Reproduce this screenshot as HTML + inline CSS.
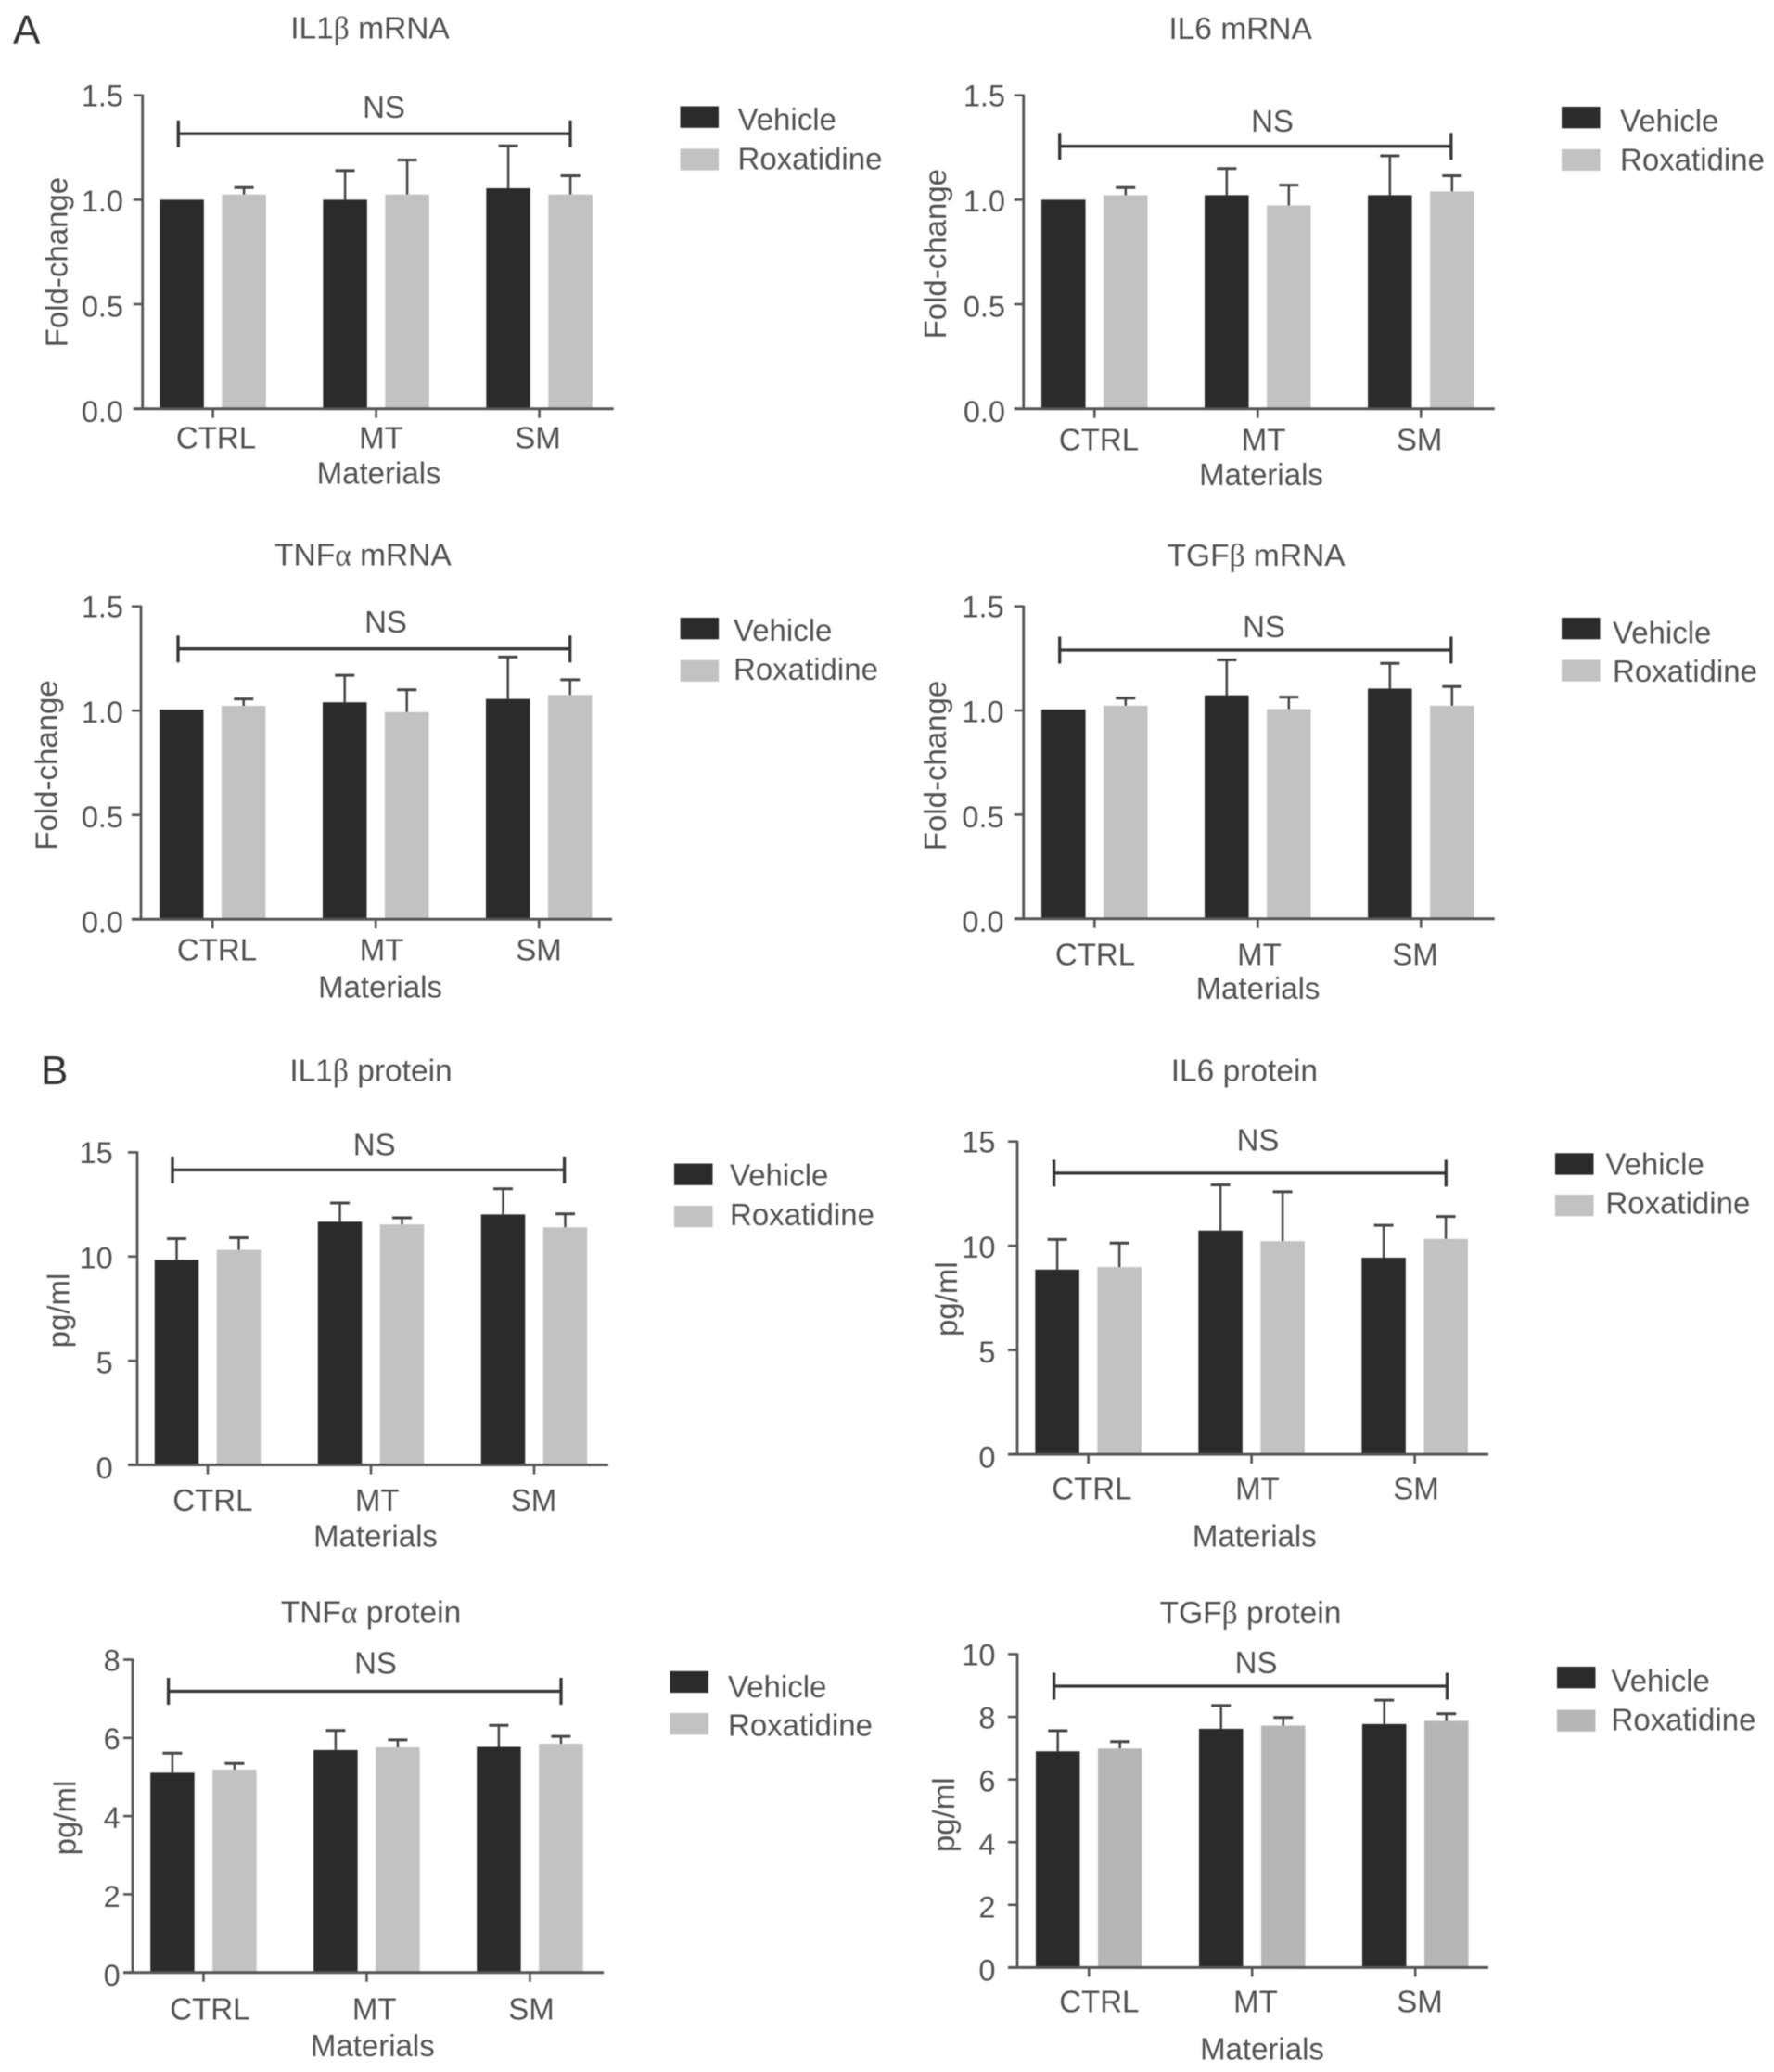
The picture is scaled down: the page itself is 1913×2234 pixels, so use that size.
<!DOCTYPE html>
<html lang="en">
<head>
<meta charset="utf-8">
<title>Cytokine mRNA and protein bar charts</title>
<style>
html,body{margin:0;padding:0;background:#fff;}
#figure{display:block;width:1913px;height:2234px;filter:blur(0.6px);}
text{font-family:"Liberation Sans",Arial,sans-serif;fill:#525252;}
</style>
</head>
<body>
<svg id="figure" xmlns="http://www.w3.org/2000/svg" width="1913" height="2234" viewBox="0 0 1913 2234">
  <rect x="0" y="0" width="1913" height="2234" fill="#ffffff"/>
  <text x="14" y="47" font-size="44" style="fill:#333">A</text>
  <text x="44" y="1169" font-size="44" style="fill:#333">B</text>
</svg>
<script>
// Shared categories, series names and tick labels
const categories = ["CTRL", "MT", "SM"];
const seriesNames = ["Vehicle", "Roxatidine"];
const foldTicks = ["0.0", "0.5", "1.0", "1.5"];
const pgTicks15 = ["0", "5", "10", "15"];
const pgTicks8 = ["0", "2", "4", "6", "8"];
const pgTicks10 = ["0", "2", "4", "6", "8", "10"];

// IL1beta mRNA
const il1bMrnaVehicle = [1.0, 1.0, 1.055];
const il1bMrnaRoxatidine = [1.025, 1.025, 1.025];
const il1bMrnaVehicleUpper = [1.0, 1.14, 1.258];
const il1bMrnaRoxatidineUpper = [1.058, 1.19, 1.115];
// IL6 mRNA
const il6MrnaVehicle = [1.0, 1.022, 1.022];
const il6MrnaRoxatidine = [1.022, 0.973, 1.04];
const il6MrnaVehicleUpper = [1.0, 1.149, 1.21];
const il6MrnaRoxatidineUpper = [1.058, 1.07, 1.115];
// TNFalpha mRNA
const tnfMrnaVehicle = [1.005, 1.04, 1.056];
const tnfMrnaRoxatidine = [1.023, 0.993, 1.075];
const tnfMrnaVehicleUpper = [1.005, 1.169, 1.257];
const tnfMrnaRoxatidineUpper = [1.056, 1.10, 1.148];
// TGFbeta mRNA
const tgfMrnaVehicle = [1.005, 1.073, 1.105];
const tgfMrnaRoxatidine = [1.023, 1.007, 1.023];
const tgfMrnaVehicleUpper = [1.005, 1.243, 1.226];
const tgfMrnaRoxatidineUpper = [1.059, 1.064, 1.115];
// IL1beta protein
const il1bProteinVehicle = [9.84, 11.67, 12.02];
const il1bProteinRoxatidine = [10.32, 11.54, 11.4];
const il1bProteinVehicleUpper = [10.86, 12.57, 13.25];
const il1bProteinRoxatidineUpper = [10.9, 11.86, 12.05];
// IL6 protein
const il6ProteinVehicle = [8.86, 10.73, 9.43];
const il6ProteinRoxatidine = [8.98, 10.22, 10.33];
const il6ProteinVehicleUpper = [10.3, 12.92, 10.98];
const il6ProteinRoxatidineUpper = [10.13, 12.59, 11.4];
// TNFalpha protein
const tnfProteinVehicle = [5.11, 5.69, 5.77];
const tnfProteinRoxatidine = [5.19, 5.76, 5.85];
const tnfProteinVehicleUpper = [5.61, 6.19, 6.32];
const tnfProteinRoxatidineUpper = [5.35, 5.95, 6.04];
// TGFbeta protein
const tgfProteinVehicle = [6.9, 7.62, 7.77];
const tgfProteinRoxatidine = [6.99, 7.72, 7.87];
const tgfProteinVehicleUpper = [7.56, 8.36, 8.53];
const tgfProteinRoxatidineUpper = [7.21, 7.98, 8.1];

const NS_URI = "http://www.w3.org/2000/svg";
const root = document.getElementById("figure");

function make(parent, tag, attrs) {
  const node = document.createElementNS(NS_URI, tag);
  for (const key in attrs) node.setAttribute(key, attrs[key]);
  parent.appendChild(node);
  return node;
}

function addText(parent, content, x, y, size, anchor) {
  const node = make(parent, "text", { x: x, y: y, "font-size": size, "text-anchor": anchor });
  content.split(/([αβ])/).forEach(function (part) {
    if (!part) return;
    const span = make(node, "tspan", {});
    if (part === "α" || part === "β") span.setAttribute("style", 'font-family:"Liberation Serif",serif');
    span.textContent = part;
  });
  return node;
}

const panels = [
  { key: "il1b-mrna", title: "IL1β mRNA", yLabel: "Fold-change", ticks: foldTicks,
    vehicle: il1bMrnaVehicle, roxatidine: il1bMrnaRoxatidine, vehicleUpper: il1bMrnaVehicleUpper, roxatidineUpper: il1bMrnaRoxatidineUpper,
    axisX: 153.7, top: 102.7, base: 440.7, tick0: 229.6, titleX: 399, titleY: 30,
    bracket: [192.3, 615, 144.2], nsX: 414, nsY: 116,
    swatchX: 733.5, sw1: 114.5, sw2: 160.3, legendX: 795.5, leg1: 128, leg2: 172,
    catX: [233, 411, 580], catY: 474, matX: 408.6, matY: 511.6, yLabelX: 64, yLabelY: 282.6, tickRight: 133, lightFill: "#c2c2c2" },
  { key: "il6-mrna", title: "IL6 mRNA", yLabel: "Fold-change", ticks: foldTicks,
    vehicle: il6MrnaVehicle, roxatidine: il6MrnaRoxatidine, vehicleUpper: il6MrnaVehicleUpper, roxatidineUpper: il6MrnaRoxatidineUpper,
    axisX: 1103.7, top: 102.7, base: 440.7, tick0: 1180.3, titleX: 1337.6, titleY: 30.4,
    bracket: [1142.7, 1564.8, 157.7], nsX: 1372, nsY: 131,
    swatchX: 1684, sw1: 115, sw2: 160.8, legendX: 1747, leg1: 129.5, leg2: 173,
    catX: [1185, 1362.6, 1530.6], catY: 476, matX: 1360, matY: 513.4, yLabelX: 1011.7, yLabelY: 273.7, tickRight: 1084, lightFill: "#c2c2c2" },
  { key: "tnfa-mrna", title: "TNFα mRNA", yLabel: "Fold-change", ticks: foldTicks,
    vehicle: tnfMrnaVehicle, roxatidine: tnfMrnaRoxatidine, vehicleUpper: tnfMrnaVehicleUpper, roxatidineUpper: tnfMrnaRoxatidineUpper,
    axisX: 152, top: 653.7, base: 991.2, tick0: 229.2, titleX: 391.4, titleY: 598,
    bracket: [192, 614.7, 699.7], nsX: 416, nsY: 671,
    swatchX: 733.6, sw1: 666, sw2: 711.6, legendX: 791, leg1: 679, leg2: 722.4,
    catX: [234, 411.6, 581], catY: 1026, matX: 410, matY: 1065.5, yLabelX: 53, yLabelY: 825, tickRight: 133, lightFill: "#c2c2c2" },
  { key: "tgfb-mrna", title: "TGFβ mRNA", yLabel: "Fold-change", ticks: foldTicks,
    vehicle: tgfMrnaVehicle, roxatidine: tgfMrnaRoxatidine, vehicleUpper: tgfMrnaVehicleUpper, roxatidineUpper: tgfMrnaRoxatidineUpper,
    axisX: 1103.7, top: 653.7, base: 990.7, tick0: 1180.3, titleX: 1354.6, titleY: 598.6,
    bracket: [1142.7, 1564.8, 701], nsX: 1363, nsY: 676,
    swatchX: 1684, sw1: 666, sw2: 711.4, legendX: 1739, leg1: 681.6, leg2: 724.6,
    catX: [1181, 1358, 1526], catY: 1030.8, matX: 1356.5, matY: 1067, yLabelX: 1011.7, yLabelY: 825.5, tickRight: 1082.6, lightFill: "#c2c2c2" },
  { key: "il1b-protein", title: "IL1β protein", yLabel: "pg/ml", ticks: pgTicks15,
    vehicle: il1bProteinVehicle, roxatidine: il1bProteinRoxatidine, vehicleUpper: il1bProteinVehicleUpper, roxatidineUpper: il1bProteinRoxatidineUpper,
    axisX: 148, top: 1242.4, base: 1579.5, tick0: 224, titleX: 400, titleY: 1154,
    bracket: [186, 608.6, 1261.4], nsX: 403.7, nsY: 1234.5,
    swatchX: 727, sw1: 1254.5, sw2: 1300, legendX: 787, leg1: 1266.7, leg2: 1310.7,
    catX: [229.4, 406.7, 575.5], catY: 1619.4, matX: 405, matY: 1657.7, yLabelX: 66, yLabelY: 1413, tickRight: 121.7, lightFill: "#c2c2c2" },
  { key: "il6-protein", title: "IL6 protein", yLabel: "pg/ml", ticks: pgTicks15,
    vehicle: il6ProteinVehicle, roxatidine: il6ProteinRoxatidine, vehicleUpper: il6ProteinVehicleUpper, roxatidineUpper: il6ProteinRoxatidineUpper,
    axisX: 1097, top: 1230.7, base: 1568.1, tick0: 1173.6, titleX: 1341.9, titleY: 1154,
    bracket: [1136.6, 1559.3, 1264.9], nsX: 1356.5, nsY: 1229.5,
    swatchX: 1677, sw1: 1243.3, sw2: 1288, legendX: 1731.4, leg1: 1254.5, leg2: 1298,
    catX: [1177.4, 1355.9, 1527], catY: 1607, matX: 1352.8, matY: 1657.7, yLabelX: 1023.5, yLabelY: 1400.7, tickRight: 1073.5, lightFill: "#c2c2c2" },
  { key: "tnfa-protein", title: "TNFα protein", yLabel: "pg/ml", ticks: pgTicks8,
    vehicle: tnfProteinVehicle, roxatidine: tnfProteinRoxatidine, vehicleUpper: tnfProteinVehicleUpper, roxatidineUpper: tnfProteinRoxatidineUpper,
    axisX: 143, top: 1789.5, base: 2126.7, tick0: 219.4, titleX: 400, titleY: 1738,
    bracket: [181.6, 605, 1823.5], nsX: 405, nsY: 1793.6,
    swatchX: 722.5, sw1: 1801.8, sw2: 1847, legendX: 785, leg1: 1818, leg2: 1861,
    catX: [226.4, 403.7, 573], catY: 2168, matX: 401.8, matY: 2207, yLabelX: 72.8, yLabelY: 1960, tickRight: 129.7, lightFill: "#c2c2c2" },
  { key: "tgfb-protein", title: "TGFβ protein", yLabel: "pg/ml", ticks: pgTicks10,
    vehicle: tgfProteinVehicle, roxatidine: tgfProteinRoxatidine, vehicleUpper: tgfProteinVehicleUpper, roxatidineUpper: tgfProteinRoxatidineUpper,
    axisX: 1097, top: 1783.5, base: 2121.4, tick0: 1174.2, titleX: 1348.5, titleY: 1738.7,
    bracket: [1136.6, 1560.5, 1818], nsX: 1354.6, nsY: 1793.2,
    swatchX: 1679, sw1: 1797, sw2: 1843.5, legendX: 1737.5, leg1: 1811.7, leg2: 1855,
    catX: [1185.3, 1354, 1531], catY: 2160, matX: 1361, matY: 2210.7, yLabelX: 1020.5, yLabelY: 1956.8, tickRight: 1073.5, lightFill: "#b6b6b6" }
];

const GROUP_STEP = 176;
const BAR_WIDTH = 47.5;
const BAR_OFFSET = 33.5;
const DARK = "#2b2b2b";
const AXIS = "#555555";
const TEXT_SIZE = 33;
const TICK_SIZE = 32.5;
const TITLE_SIZE = 33.5;

function drawPanel(p) {
  const maxTick = parseFloat(p.ticks[p.ticks.length - 1]);
  const yScale = function (v) { return p.base - (v / maxTick) * (p.base - p.top); };
  const xScale = function (i) { return p.tick0 + i * GROUP_STEP; };

  const g = make(root, "g", {});
  
  

  const title = addText(g, p.title, p.titleX, p.titleY + 11.5, TITLE_SIZE, "middle");
  
  

  // Bars and error bars
  const series = [
    { name: seriesNames[0], values: p.vehicle, upper: p.vehicleUpper, fill: DARK, dx: -BAR_OFFSET },
    { name: seriesNames[1], values: p.roxatidine, upper: p.roxatidineUpper, fill: p.lightFill, dx: BAR_OFFSET }
  ];
  series.forEach(function (s) {
    s.values.forEach(function (v, i) {
      const cx = xScale(i) + s.dx;
      if (s.upper[i] > v) {
        const stem = make(g, "line", { x1: cx, x2: cx, y1: yScale(v), y2: yScale(s.upper[i]), stroke: "#454545", "stroke-width": 2.5 });
        
        
        const cap = make(g, "line", { x1: cx - 10.5, x2: cx + 10.5, y1: yScale(s.upper[i]), y2: yScale(s.upper[i]), stroke: "#454545", "stroke-width": 3 });
        
        
      }
      const bar = make(g, "rect", { x: cx - BAR_WIDTH / 2, y: yScale(v), width: BAR_WIDTH, height: p.base - yScale(v), fill: s.fill });
      
      
    });
  });

  // Y axis
  const yAxis = make(g, "line", { x1: p.axisX, x2: p.axisX, y1: p.top - 1, y2: p.base + 1, stroke: AXIS, "stroke-width": 2.8 });
  
  
  p.ticks.forEach(function (label) {
    const value = parseFloat(label);
    const ty = yScale(value);
    const tickMark = make(g, "line", { x1: p.axisX - 10, x2: p.axisX, y1: ty, y2: ty, stroke: AXIS, "stroke-width": 2.6 });
    
    
    const tickLabel = addText(g, label, p.tickRight, ty + 11.8 + 2.5 * (1 - value / maxTick), TICK_SIZE, "end");
    
    
  });

  // X axis
  const xAxis = make(g, "line", { x1: p.axisX - 10, x2: p.axisX + 508, y1: p.base, y2: p.base, stroke: AXIS, "stroke-width": 3 });
  
  
  categories.forEach(function (cat, i) {
    const tx = xScale(i);
    const xTick = make(g, "line", { x1: tx, x2: tx, y1: p.base, y2: p.base + 10, stroke: AXIS, "stroke-width": 2.6 });
    
    
    const catLabel = addText(g, cat, p.catX[i], p.catY + 9.5, TEXT_SIZE, "middle");
    
    
  });

  const xTitle = addText(g, "Materials", p.matX, p.matY + 9.8, TEXT_SIZE, "middle");
  
  

  const yTitle = addText(g, p.yLabel, 0, 0, TEXT_SIZE, "middle");
  yTitle.setAttribute("transform", "translate(" + (p.yLabelX + 8.5) + "," + p.yLabelY + ") rotate(-90)");
  
  

  // Significance bracket
  const bx1 = p.bracket[0], bx2 = p.bracket[1], by = p.bracket[2];
  const bracket = make(g, "path", {
    d: "M" + bx1 + " " + (by - 14.5) + "V" + (by + 14.5) + "M" + bx2 + " " + (by - 14.5) + "V" + (by + 14.5) + "M" + bx1 + " " + by + "H" + bx2,
    fill: "none", stroke: "#363636", "stroke-width": 3.3
  });
  
  
  const ns = addText(g, "NS", p.nsX, p.nsY + 11, TEXT_SIZE, "middle");
  
  

  // Legend
  const swatch1 = make(g, "rect", { x: p.swatchX, y: p.sw1, width: 41.5, height: 23.3, fill: DARK });
  
  
  const legend1 = addText(g, seriesNames[0], p.legendX, p.leg1 + 12, TEXT_SIZE, "start");
  
  
  const swatch2 = make(g, "rect", { x: p.swatchX, y: p.sw2, width: 41.5, height: 23.3, fill: p.lightFill });
  
  
  const legend2 = addText(g, seriesNames[1], p.legendX, p.leg2 + 10.5, TEXT_SIZE, "start");
  
  
}

panels.forEach(drawPanel);
</script>
</body>
</html>
